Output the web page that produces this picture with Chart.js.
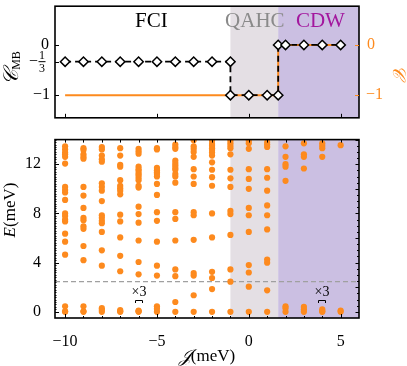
<!DOCTYPE html>
<html>
<head>
<meta charset="utf-8">
<script src="https://cdn.jsdelivr.net/npm/chart.js@4.4.0/dist/chart.umd.min.js"></script>
<style>
body { margin: 0; background: #fff; width: 407px; height: 366px; overflow: hidden; position: relative; }
#topChart { position: absolute; left: 0; top: 0; }
#bottomChart { position: absolute; left: 0; top: 124px; }
</style>
</head>
<body>
<canvas id="topChart" width="407" height="124"></canvas>
<canvas id="bottomChart" width="407" height="242"></canvas>
<script>
// phase diagram (top panel)
var chernJ = [-10, -9, -8, -7, -6, -5, -4, -3, -2, -1, -1, 0, 1, 1.6, 1.6, 2, 3, 4, 5];
var chernMB = [-1/3, -1/3, -1/3, -1/3, -1/3, -1/3, -1/3, -1/3, -1/3, -1/3, -1, -1, -1, -1, 0, 0, 0, 0, 0];
var chernBandJ = [-10, 1.6, 1.6, 5];
var chernBand = [-1, -1, 0, 0];
var phaseNames = ['FCI', 'QAHC', 'CDW'];
var phaseEdges = [-1, 1.6];

// spectrum (bottom panel), one list of levels per coupling
var couplings = [-10, -9, -8, -7, -6, -5, -4, -3, -2, -1, 0, 1, 2, 3, 4, 5];
var levels = [
  [13.45, 13.2, 12.95, 12.8, 12.6, 12.05, 10.15, 9.9, 9.7, 9.1, 8.0, 7.8, 7.5, 7.35, 6.35, 5.7, 4.65, 0.45, 0.05, 0],
  [13.3, 13.15, 12.8, 12.6, 12.45, 10.15, 9.45, 8.45, 7.65, 7.45, 6.95, 6.75, 5.35, 4.2, 0.45, 0.05, 0],
  [13.4, 13.2, 12.7, 12.4, 12.2, 10.45, 10.15, 9.85, 9.0, 7.85, 7.65, 7.4, 7.2, 6.5, 5.0, 3.75, 0.3, 0.15, 0],
  [13.3, 12.7, 11.95, 11.8, 10.7, 10.25, 10.05, 9.85, 9.55, 7.9, 7.35, 6.05, 4.55, 3.3, 0.15, 0.05, 0],
  [13.25, 13.05, 12.85, 11.8, 11.6, 11.45, 11.25, 11.1, 10.9, 10.7, 10.25, 10.1, 8.55, 7.95, 7.25, 5.8, 4.05, 3.05, 0.1, 0.05, 0],
  [13.3, 13.2, 11.7, 11.5, 11.35, 11.2, 11.0, 10.4, 9.5, 8.1, 7.4, 5.7, 3.75, 2.95, 0.45, 0.25, 0],
  [13.6, 13.4, 13.25, 12.3, 12.1, 11.9, 11.7, 11.55, 11.2, 11.0, 10.5, 8.1, 7.55, 5.8, 3.45, 2.9, 0.8, 0],
  [13.95, 13.45, 13.25, 13.0, 12.6, 11.6, 11.0, 10.4, 8.1, 7.85, 5.85, 3.15, 2.95, 1.35, 0],
  [13.9, 13.65, 13.5, 13.3, 13.15, 12.95, 12.7, 12.15, 11.55, 10.95, 10.25, 8.0, 6.05, 3.25, 2.75, 1.85, 0],
  [13.9, 13.7, 13.5, 13.3, 12.8, 11.55, 10.85, 10.15, 8.2, 7.95, 6.25, 3.45, 2.45, 0],
  [13.9, 13.7, 13.25, 11.6, 10.8, 10.0, 8.45, 7.85, 6.5, 3.8, 3.2, 2.05, 0],
  [13.8, 13.6, 13.4, 11.6, 10.9, 9.85, 8.65, 7.85, 6.7, 4.25, 4.0, 1.75, 0],
  [13.45, 12.6, 12.0, 11.8, 10.65, 0.45, 0.3, 0],
  [13.7, 12.8, 12.6, 11.65, 0.4, 0.2, 0],
  [13.7, 13.5, 13.3, 12.6, 0.2, 0.05, 0],
  [13.55, 0.1, 0]
];
var gapEnergy = 2.45;
var degenerateAt = [-6, 4];
var xTicks = [-10, -5, 0, 5];
var yTicks = [0, 4, 8, 12];

var ORANGE = '#fd8a1e';
var SERIF = '"Liberation Serif", "DejaVu Serif", serif';

function minus(v) { return String(v).replace('-', '\u2212'); }

function drawRich(ctx, x, y, rot, parts) {
  ctx.save();
  ctx.translate(x, y);
  ctx.rotate(rot);
  var w = 0;
  parts.forEach(function(p) { ctx.font = p.font; p.w = ctx.measureText(p.text).width; w += p.w; });
  var cx = -w / 2;
  ctx.textAlign = 'left';
  ctx.textBaseline = 'middle';
  parts.forEach(function(p) {
    ctx.font = p.font;
    ctx.fillStyle = p.color || '#000';
    ctx.fillText(p.text, cx, p.dy || 0);
    cx += p.w;
  });
  ctx.restore();
}

function shadePhases(chart) {
  var ctx = chart.ctx, a = chart.chartArea, xs = chart.scales.x;
  var x1 = xs.getPixelForValue(phaseEdges[0]);
  var x2 = xs.getPixelForValue(phaseEdges[1]);
  ctx.save();
  ctx.fillStyle = '#e4dfe4';
  ctx.fillRect(x1, a.top, x2 - x1, a.bottom - a.top);
  ctx.fillStyle = '#cbbfe2';
  ctx.fillRect(x2, a.top, a.right - x2, a.bottom - a.top);
  ctx.restore();
}

// inward tick marks along one edge of the frame
function ticks(ctx, chart, scale, values, len, edge, color) {
  var a = chart.chartArea;
  ctx.save();
  ctx.strokeStyle = color || '#000';
  ctx.lineWidth = 1;
  ctx.beginPath();
  values.forEach(function(v) {
    var p = Math.round(scale.getPixelForValue(v)) + 0.5;
    if (edge === 'bottom') { ctx.moveTo(p, a.bottom); ctx.lineTo(p, a.bottom - len); }
    if (edge === 'top') { ctx.moveTo(p, a.top); ctx.lineTo(p, a.top + len); }
    if (edge === 'left') { ctx.moveTo(a.left, p); ctx.lineTo(a.left + len, p); }
    if (edge === 'right') { ctx.moveTo(a.right, p); ctx.lineTo(a.right - len, p); }
  });
  ctx.stroke();
  ctx.restore();
}

function frame(chart) {
  var ctx = chart.ctx, a = chart.chartArea;
  ctx.save();
  ctx.strokeStyle = '#000';
  ctx.lineWidth = 1.6;
  ctx.strokeRect(a.left, a.top, a.right - a.left, a.bottom - a.top);
  ctx.restore();
}

function range(from, to, step) {
  var out = [];
  for (var v = from; v <= to + 1e-9; v += step) out.push(Math.round(v * 100) / 100);
  return out;
}

var topPlugin = {
  id: 'topPanel',
  beforeDatasetsDraw: function(chart) { shadePhases(chart); },
  afterDatasetsDraw: function(chart) {
    var ctx = chart.ctx, xs = chart.scales.x, ys = chart.scales.y;
    frame(chart);
    ticks(ctx, chart, xs, xTicks, 4, 'bottom');
    ticks(ctx, chart, ys, [0, -1/3, -1], 4, 'left');
    ticks(ctx, chart, chart.scales.y2, [0, -1], 4, 'right', ORANGE);

    // phase names
    var nameColors = ['#000', '#8a8a8a', '#a3179e'];
    var nameX = [-5.3, 0.33, 3.9];
    ctx.save();
    ctx.font = '21px ' + SERIF;
    ctx.textAlign = 'center';
    ctx.textBaseline = 'middle';
    phaseNames.forEach(function(n, i) {
      ctx.fillStyle = nameColors[i];
      ctx.fillText(n, xs.getPixelForValue(nameX[i]), ys.getPixelForValue(0.47));
    });

    // left tick labels
    ctx.fillStyle = '#000';
    ctx.font = '16px ' + SERIF;
    ctx.textAlign = 'right';
    ctx.fillText('0', 49, ys.getPixelForValue(0));
    ctx.fillText(minus(-1), 50, ys.getPixelForValue(-1));
    var py = ys.getPixelForValue(-1/3);
    ctx.fillText('\u2212', 38, py);
    ctx.font = '12px ' + SERIF;
    ctx.textAlign = 'center';
    ctx.fillText('1', 42, py - 6);
    ctx.fillText('3', 42, py + 7);
    ctx.fillRect(38.5, py - 0.5, 7, 1);

    // right tick labels
    ctx.fillStyle = ORANGE;
    ctx.font = '16px ' + SERIF;
    ctx.textAlign = 'left';
    ctx.fillText('0', 367, ys.getPixelForValue(0));
    ctx.fillText(minus(-1), 366, ys.getPixelForValue(-1));
    ctx.restore();

    drawRich(ctx, 12, 68, -Math.PI / 2, [
      { text: '\uD835\uDC9E', font: 'italic 21px ' + SERIF },
      { text: 'MB', font: '12px ' + SERIF, dy: 5 }
    ]);
    drawRich(ctx, 398, 71, Math.PI / 2, [
      { text: '\uD835\uDC9E', font: 'italic 18px ' + SERIF, color: ORANGE }
    ]);
  }
};

new Chart(document.getElementById('topChart'), {
  type: 'scatter',
  data: {
    datasets: [
      {
        label: 'C_MB',
        data: chernJ.map(function(j, i) { return { x: j, y: chernMB[i] }; }),
        showLine: true,
        borderColor: '#000',
        borderWidth: 1.8,
        borderDash: [6, 4],
        pointStyle: 'rectRot',
        pointRadius: 4.7,
        pointBackgroundColor: '#fff',
        pointBorderColor: '#000',
        pointBorderWidth: 1.5
      },
      {
        label: 'C',
        data: chernBandJ.map(function(j, i) { return { x: j, y: chernBand[i] }; }),
        showLine: true,
        borderColor: ORANGE,
        borderWidth: 2,
        pointRadius: 0
      }
    ]
  },
  options: {
    responsive: false,
    animation: false,
    layout: { padding: { top: 1, left: 0, right: 0, bottom: 0 } },
    plugins: { legend: { display: false }, tooltip: { enabled: false } },
    scales: {
      x: {
        min: -10.55, max: 6,
        grid: { display: false }, border: { display: false },
        ticks: { display: false },
        afterFit: function(s) { s.height = 5; }
      },
      y: {
        min: -1.45, max: 0.77,
        grid: { display: false }, border: { display: false },
        ticks: { display: false },
        afterFit: function(s) { s.width = 55; }
      },
      y2: {
        position: 'right',
        min: -1.45, max: 0.77,
        grid: { display: false }, border: { display: false },
        ticks: { display: false },
        afterFit: function(s) { s.width = 48; }
      }
    }
  },
  plugins: [topPlugin]
});

var spectrum = [];
couplings.forEach(function(j, i) {
  levels[i].forEach(function(e) { spectrum.push({ x: j, y: e }); });
});

var bottomPlugin = {
  id: 'bottomPanel',
  beforeDatasetsDraw: function(chart) {
    var ctx = chart.ctx, a = chart.chartArea, ys = chart.scales.y;
    shadePhases(chart);
    var gy = ys.getPixelForValue(gapEnergy);
    ctx.save();
    ctx.strokeStyle = '#a0a0a0';
    ctx.lineWidth = 1.2;
    ctx.setLineDash([5, 3]);
    ctx.beginPath();
    ctx.moveTo(a.left, gy);
    ctx.lineTo(a.right, gy);
    ctx.stroke();
    ctx.restore();
  },
  afterDatasetsDraw: function(chart) {
    var ctx = chart.ctx, xs = chart.scales.x, ys = chart.scales.y;
    frame(chart);
    ticks(ctx, chart, xs, xTicks, 4, 'bottom');
    ticks(ctx, chart, xs, range(-10, 5, 1), 2, 'bottom');
    ticks(ctx, chart, xs, range(-10, 5, 1), 3, 'top');
    ticks(ctx, chart, ys, yTicks, 4, 'left');
    ticks(ctx, chart, ys, range(0, 14, 0.2), 1.5, 'left');
    ticks(ctx, chart, ys, range(0, 14, 0.5), 2, 'right');
    ticks(ctx, chart, ys, range(0, 14, 2), 3.5, 'right');

    // threefold degeneracy marks
    ctx.save();
    ctx.fillStyle = '#000';
    ctx.strokeStyle = '#000';
    ctx.lineWidth = 1;
    ctx.font = '14px ' + SERIF;
    ctx.textAlign = 'center';
    ctx.textBaseline = 'middle';
    degenerateAt.forEach(function(j) {
      var px = Math.round(xs.getPixelForValue(j));
      var py = Math.round(ys.getPixelForValue(1.6));
      ctx.fillText('\u00d73', px, py);
      ctx.beginPath();
      ctx.moveTo(px - 3.5, py + 11);
      ctx.lineTo(px - 3.5, py + 8.5);
      ctx.lineTo(px + 3.5, py + 8.5);
      ctx.lineTo(px + 3.5, py + 11);
      ctx.stroke();
    });
    ctx.restore();

    drawRich(ctx, 207, 233, 0, [
      { text: '\uD835\uDCA5', font: 'italic 18px ' + SERIF },
      { text: '(meV)', font: '17px ' + SERIF }
    ]);
    drawRich(ctx, 11, 86, -Math.PI / 2, [
      { text: 'E', font: 'italic 17px ' + SERIF },
      { text: '(meV)', font: '17px ' + SERIF }
    ]);
  }
};

new Chart(document.getElementById('bottomChart'), {
  type: 'scatter',
  data: {
    datasets: [{
      label: 'E',
      data: spectrum,
      pointRadius: 3.1,
      pointBorderWidth: 0,
      pointBackgroundColor: ORANGE,
      pointBorderColor: ORANGE
    }]
  },
  options: {
    responsive: false,
    animation: false,
    layout: { padding: { top: 4, left: 0, right: 48, bottom: 0 } },
    plugins: { legend: { display: false }, tooltip: { enabled: false } },
    scales: {
      x: {
        min: -10.55, max: 6,
        grid: { display: false }, border: { display: false },
        afterBuildTicks: function(s) { s.ticks = xTicks.map(function(v) { return { value: v }; }); },
        ticks: { color: '#000', padding: 6, maxRotation: 0, font: { family: SERIF, size: 16 }, callback: function(v) { return minus(v); } },
        afterFit: function(s) { s.height = 48; }
      },
      y: {
        min: -0.5, max: 14,
        grid: { display: false }, border: { display: false },
        afterBuildTicks: function(s) { s.ticks = yTicks.map(function(v) { return { value: v }; }); },
        ticks: { color: '#000', padding: 6, font: { family: SERIF, size: 16 }, callback: function(v) { return minus(v); } },
        afterFit: function(s) { s.width = 55; }
      }
    }
  },
  plugins: [bottomPlugin]
});
</script>
</body>
</html>
